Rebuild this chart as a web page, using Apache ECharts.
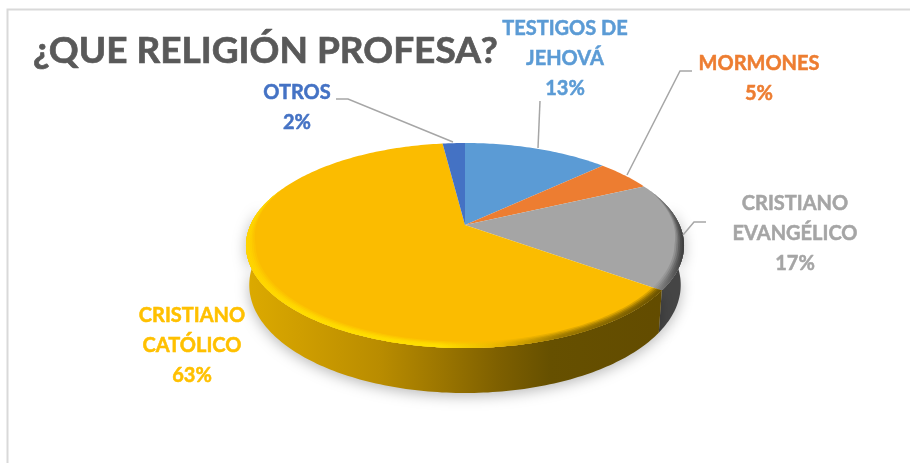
<!DOCTYPE html>
<html><head><meta charset="utf-8">
<style>html,body{margin:0;padding:0;background:#fff}#c{width:910px;height:463px}</style>
<script src="https://cdn.jsdelivr.net/npm/echarts@6/dist/echarts.min.js"></script>
</head><body><div id="c"></div>
<script>
// Data, clockwise from 12 o'clock
const categories = ['TESTIGOS DE\nJEHOVÁ', 'MORMONES', 'CRISTIANO\nEVANGÉLICO', 'CRISTIANO\nCATÓLICO', 'OTROS'];
const values = [13, 5, 17, 63, 2];
const colors = ['#5B9BD5', '#ED7D31', '#A5A5A5', '#FFC000', '#4472C4'];
const titleText = '¿QUE RELIGIÓN PROFESA?';

// Perspective of the tilted disc
const CX = 465, CY = 225, A = 214.6, B = 98.4, K = 0.2;
const labelFont = 'Lato', labelSize = 20, labelLine = 29.6;
const labelPos = [[565, 58.5], [759, 78.5], [795, 233.5], [192, 345.5], [297, 107.5]];
const leaders = [
  [[540, 101], [538, 148]],
  [[692, 71], [680, 71], [627, 175]],
  [[706, 222], [694, 222], [683, 235]],
  [],
  [[336, 99], [348, 99], [453, 142]]
];

const total = values.reduce((a, b) => a + b, 0);
const spans = []; { let acc = 0; values.forEach(v => { spans.push([acc / total * 360, (acc + v) / total * 360]); acc += v; }); }
function pt(deg, r, drop) {
  const t = deg * Math.PI / 180, X = Math.sin(t) * r, Y = -Math.cos(t) * r, w = 1 - K * Y;
  const s = drop ? 0.985 : 1;
  const d = drop ? 38 + 7 * (-Math.cos(t)) : 0;
  return [CX + s * A * X / w, CY + B * Y / w + d];
}
function arc(a0, a1, fn) { const o = [], n = Math.max(2, Math.ceil(Math.abs(a1 - a0))); for (let i = 0; i <= n; i++) o.push(fn(a0 + (a1 - a0) * i / n)); return o; }
function hGrad(stops) { return { type: 'linear', x: 246, y: 0, x2: 684, y2: 0, global: true, colorStops: stops.map(s => ({ offset: (s[0] - 246) / 438, color: s[1] })) }; }

const wallFill = {
  3: hGrad([[246, '#dcaa00'], [300, '#cf9e00'], [380, '#b98c00'], [440, '#9c7600'], [500, '#7d5f00'], [550, '#665000'], [684, '#624b00']]),
  2: '#454545'
};
const bevelFill = {
  3: hGrad([[246, '#ffd400'], [300, '#ffdc00'], [440, '#ffe000'], [500, '#e8b400'], [560, '#9c7800'], [684, '#5f4900']]),
  2: hGrad([[610, '#a5a5a5'], [655, '#8a8a8a'], [684, '#3c3c3c']])
};
function bandT(deg) { const Y = -Math.cos(deg * Math.PI / 180); return Math.min(1, Math.max(0, (Y + 0.4) / 0.6)); }

function renderWall(p, api) {
  const i = p.dataIndex, a = Math.max(spans[i][0], 80), b = Math.min(spans[i][1], 280);
  if (b <= a) return { type: 'group', children: [] };
  const top = arc(a, b, d => pt(d, 1, false)), bot = arc(b, a, d => pt(d, 1, true));
  return { type: 'polygon', shape: { points: top.concat(bot) },
    style: { fill: wallFill[i] || colors[i], shadowBlur: 14, shadowColor: 'rgba(0,0,0,0.28)', shadowOffsetY: 3 } };
}
function renderTop(p, api) {
  const i = p.dataIndex, [a, b] = spans[i];
  const kids = [{ type: 'polygon', shape: { points: [[CX, CY]].concat(arc(a, b, d => pt(d, 1, false))) }, style: { fill: i === 3 ? '#FBBC00' : colors[i] } }];
  if (bevelFill[i]) {
    [[0.042, 0.25], [0.034, 0.35], [0.026, 0.5], [0.018, 0.65], [0.01, 0.8]].forEach(([w, op]) => {
      const outer = arc(a, b, d => pt(d, 1, false));
      const inner = arc(b, a, d => pt(d, 1 - w * bandT(d), false));
      kids.push({ type: 'polygon', shape: { points: outer.concat(inner) }, style: { fill: bevelFill[i], opacity: op } });
    });
  }
  return { type: 'group', children: kids };
}
function renderLabel(p, api) {
  const i = p.dataIndex, kids = [];
  if (leaders[i].length) kids.push({ type: 'polyline', shape: { points: leaders[i] }, style: { stroke: '#A6A6A6', lineWidth: 1.5, fill: 'none' } });
  const col = colors[i];
  kids.push({ type: 'text', x: labelPos[i][0], y: labelPos[i][1], style: {
    text: categories[i] + '\n' + values[i] + '%', fill: col, stroke: col, lineWidth: 0.5,
    font: 'bold ' + labelSize + 'px ' + labelFont, align: 'center', verticalAlign: 'middle', lineHeight: labelLine } });
  return { type: 'group', children: kids };
}

const chart = echarts.init(document.getElementById('c'), null, { renderer: 'canvas' });
const mk = (z, fn) => ({ type: 'custom', coordinateSystem: 'none', z, silent: true, renderItem: fn, data: values });
chart.setOption({
  animation: false, backgroundColor: '#fff',
  title: { text: titleText, left: 28, top: 28, textStyle: { fontFamily: labelFont, fontWeight: 'bold', fontSize: 37, color: '#595959', textBorderColor: '#595959', textBorderWidth: 0.7 } },
  graphic: [{ type: 'polyline', silent: true, z: 0, shape: { points: [[7.5, 470], [7.5, 9.5], [915, 9.5]] }, style: { stroke: '#D9D9D9', lineWidth: 2, fill: 'none' } }],
  series: [mk(2, renderWall), mk(3, renderTop), mk(4, renderLabel)]
});
</script></body></html>
